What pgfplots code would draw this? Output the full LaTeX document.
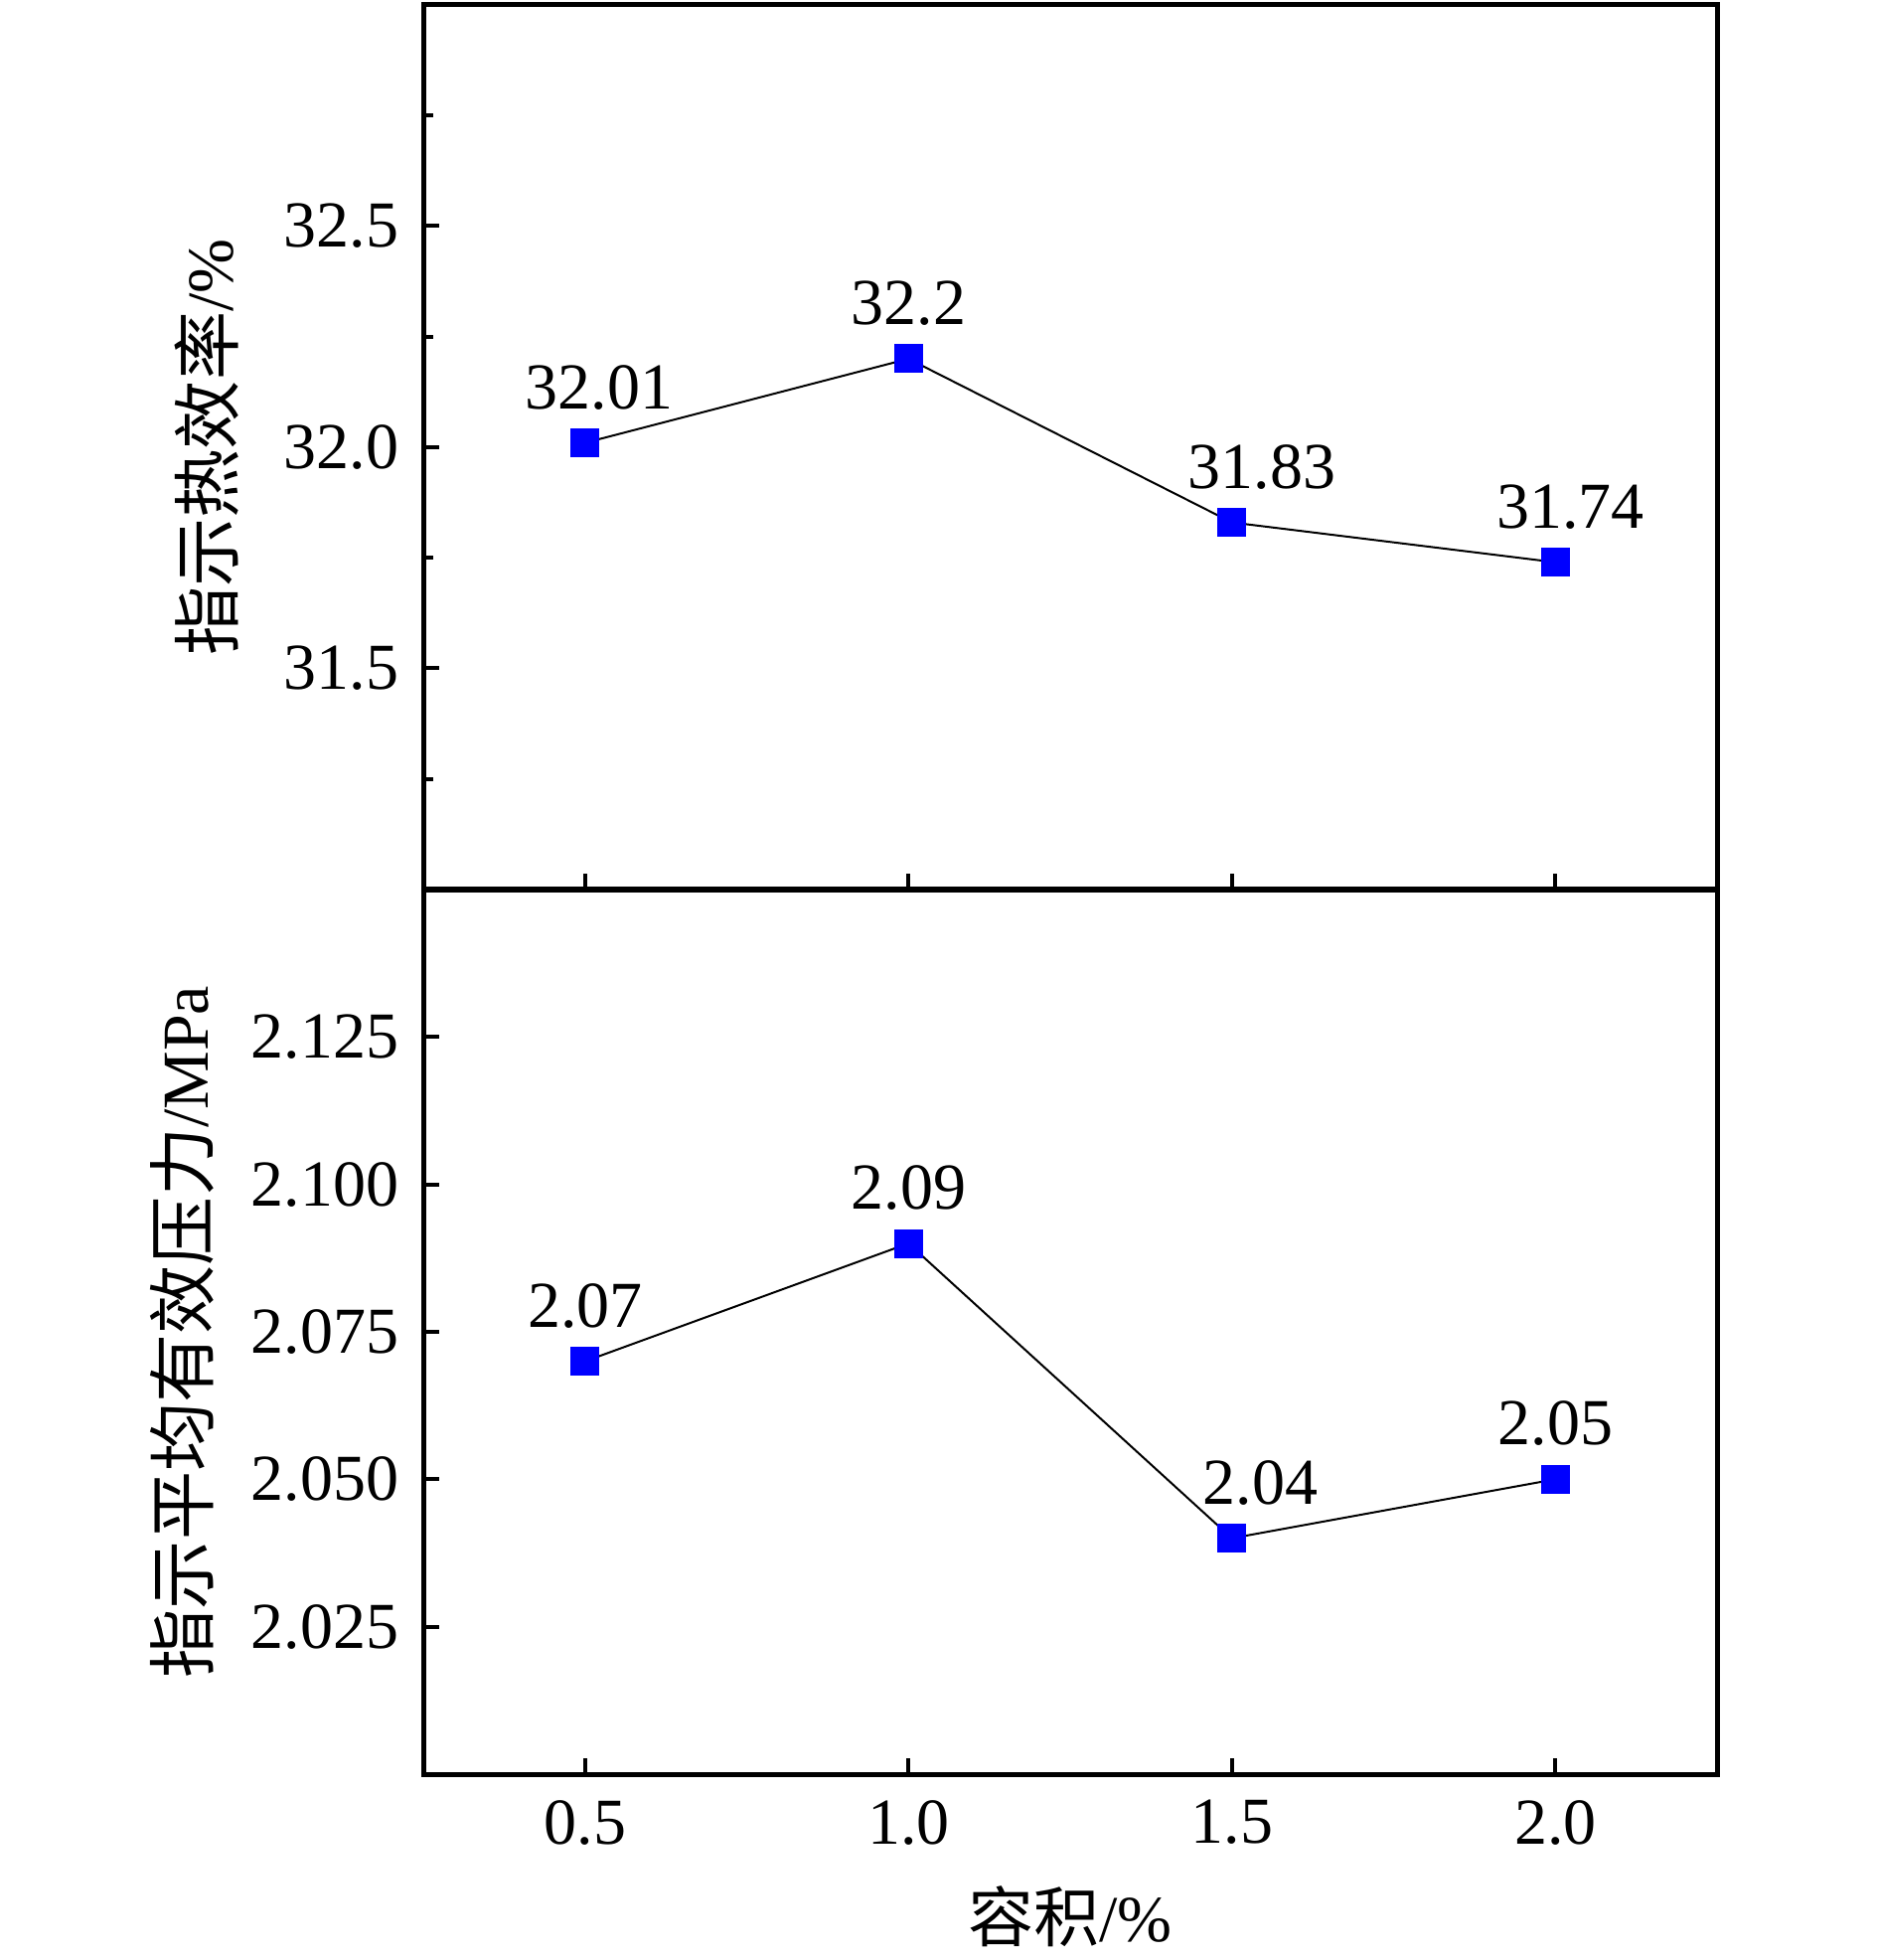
\documentclass[border=0pt]{standalone}
\usepackage{fontspec}
\setmainfont{Liberation Serif}
\newfontfamily\cjk{Noto Sans CJK SC}
\usepackage{pgfplots}
\pgfplotsset{compat=1.18}
\begin{document}
\begin{tikzpicture}
\path[use as bounding box] (0,0) rectangle (472.5pt,493pt);
\pgfplotsset{
  every axis/.append style={
    scale only axis, width=325.5pt, height=222.5pt, anchor=south west,
    font=\fontsize{16.5}{19}\selectfont,
    /pgf/number format/assume math mode=true,
    axis line style={line width=1.25pt},
    tick style={line width=1pt, black},
    tick align=inside, xtick pos=left, ytick pos=left,
    major tick length=4pt, minor tick length=2.5pt,
    xmin=0.25, xmax=2.25, xtick={0.5,1,1.5,2},
    yticklabel style={xshift=-2.6pt},
    xticklabel style={yshift=-3pt},
  },
  mystyle/.style={
    black, line width=0.5pt, mark=square*, mark size=3.5pt,
    mark options={draw=blue, fill=blue, line width=0pt},
    nodes near coords, point meta=explicit symbolic,
    visualization depends on={value \thisrow{dx} \as \dx},
    every node near coord/.append style={anchor=base, xshift=\dx pt, yshift=8.6pt, black, font=\fontsize{16.5}{19}\selectfont},
  }
}
% top axis
\begin{axis}[
  at={(106.5pt,269.25pt)},
  ymin=31.0, ymax=33.0,
  ytick={31.5,32.0,32.5},
  minor ytick={31.25,31.75,32.25,32.75},
  yticklabel style={/pgf/number format/.cd, fixed, fixed zerofill, precision=1},
  xticklabels={},
  ylabel={{\cjk\fontsize{17.3}{19}\selectfont 指示热效率}/\%},
  ylabel style={at={(axis description cs:-0.1673,0.5)}, anchor=center},
]
\addplot[mystyle] table[meta=lab] {
x y dx lab
0.5 32.01 3.5 32.01
1.0 32.20 0.0 32.2
1.5 31.83 7.5 31.83
2.0 31.74 3.8 31.74
};
\end{axis}
% bottom axis
\begin{axis}[
  at={(106.5pt,46.75pt)},
  ymin=2.0, ymax=2.15,
  ytick={2.025,2.05,2.075,2.1,2.125},
  yticklabel style={/pgf/number format/.cd, fixed, fixed zerofill, precision=3},
  xticklabel style={/pgf/number format/.cd, fixed, fixed zerofill, precision=1},
  ylabel={{\cjk\fontsize{17.3}{19}\selectfont 指示平均有效压力}/MPa},
  ylabel style={at={(axis description cs:-0.1865,0.5)}, anchor=center},
  xlabel={{\cjk 容积}/\%},
  xlabel style={at={(axis description cs:0.5,-0.1607)}, anchor=center},
]
\addplot[mystyle] table[meta=lab] {
x y dx lab
0.5 2.07 0.0 2.07
1.0 2.09 0.0 2.09
1.5 2.04 7.2 2.04
2.0 2.05 0.0 2.05
};
\end{axis}
\end{tikzpicture}
\end{document}
